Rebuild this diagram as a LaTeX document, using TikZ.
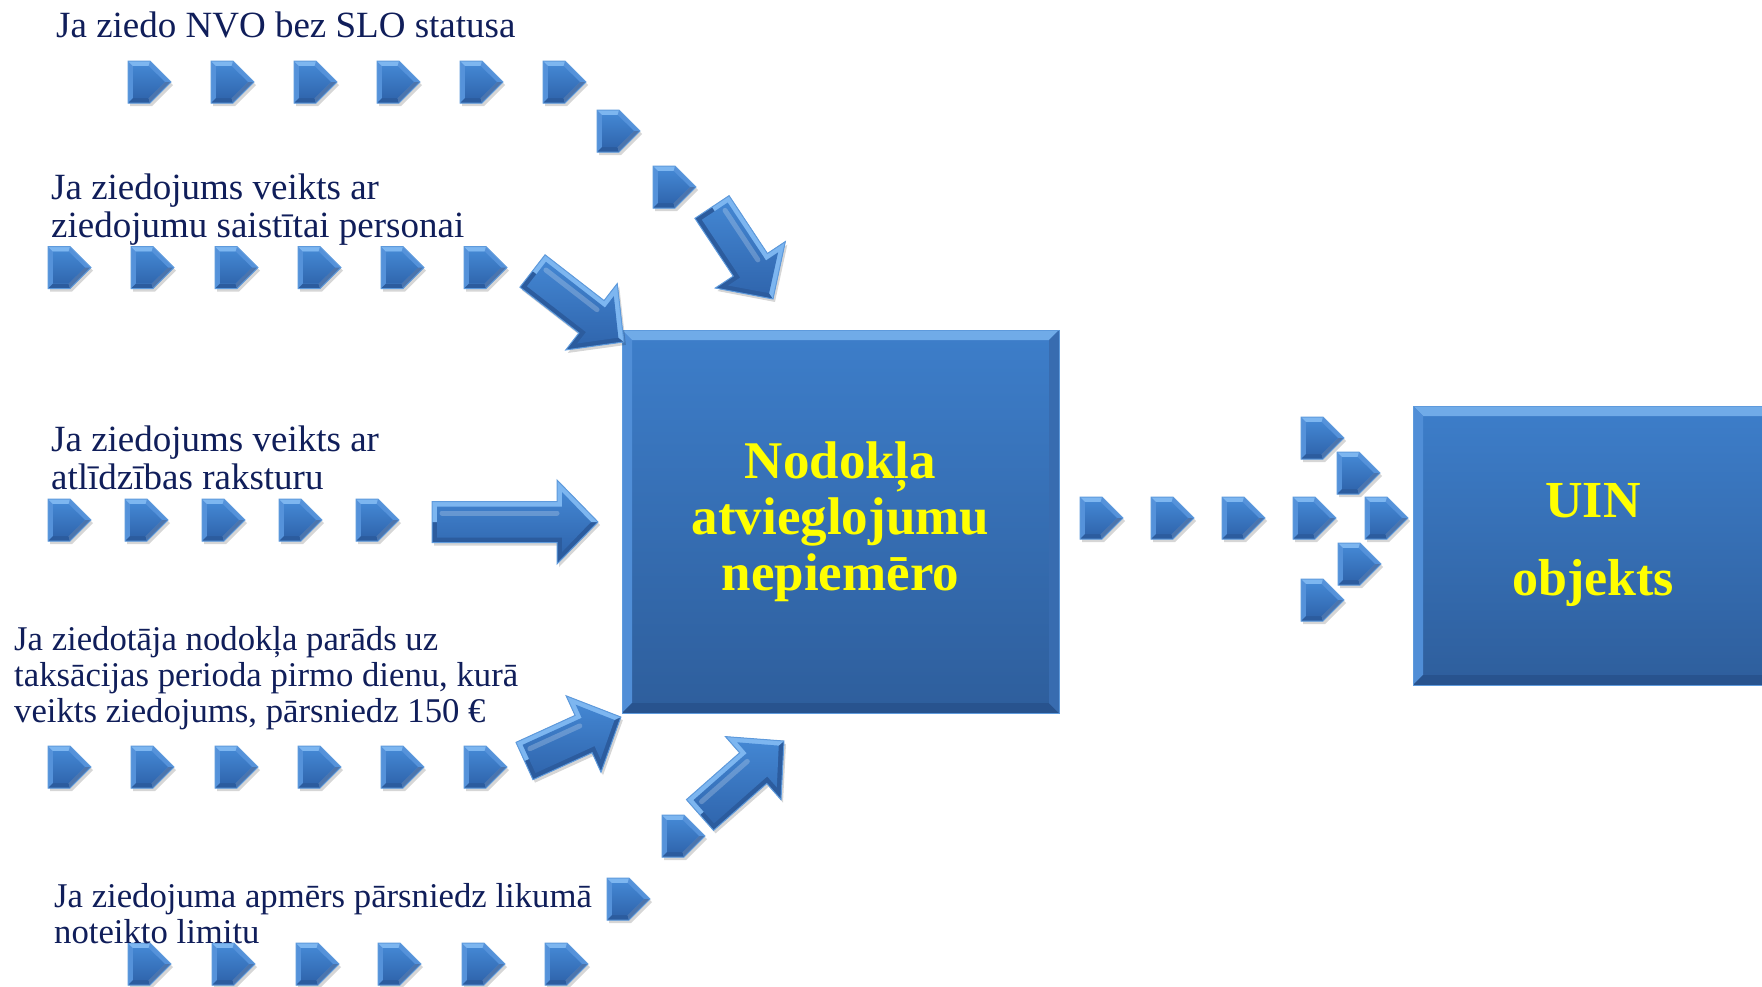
\documentclass[tikz,border=0pt]{standalone}
\usepackage{fontspec}
\setmainfont{Liberation Serif}
\usetikzlibrary{calc}
\definecolor{navy}{RGB}{16,30,90}
\definecolor{bface1}{HTML}{4386D2}
\definecolor{bface2}{HTML}{3066AE}
\definecolor{blite}{HTML}{7DB6F0}
\definecolor{bmid}{HTML}{5592DA}
\definecolor{bdark}{HTML}{2C5C9E}
\definecolor{bedge}{HTML}{5E9ADC}
\definecolor{boxtop}{HTML}{3D7ECA}
\definecolor{boxbot}{HTML}{2E5E9C}
\definecolor{ylw}{RGB}{255,255,0}

\tikzset{
 lbl/.style={anchor=base west, inner sep=0pt, text=navy, align=left,
   font=\fontsize{37}{38}\selectfont},
 lblsmall/.style={lbl, font=\fontsize{34.7}{36}\selectfont},
 chev/.pic={
   \fill[black,opacity=0.16] (2,-18) -- (24,-18) -- (45,3) -- (24,24) -- (2,24) -- cycle;
   \fill[bmid] (0,-21) -- (22,-21) -- (43,0) -- (22,21) -- (0,21) -- cycle;
   \fill[blite] (0,-21) -- (22,-21) -- (20.5,-16) -- (5,-16) -- cycle;
   \fill[bdark] (0,21) -- (22,21) -- (20.5,16) -- (5,16) -- cycle;
   \fill[bdark!85!white] (43,0) -- (22,21) -- (20.5,16) -- (37,0) -- cycle;
   \shade[top color=bface1, bottom color=bface2] (5,-16) -- (20.5,-16) -- (37,0) -- (20.5,16) -- (5,16) -- cycle;
   \draw[bedge, line width=1pt] (0,-21) -- (22,-21) -- (43,0) -- (22,21) -- (0,21) -- cycle;
 },
 bigbox/.style={draw=bedge, line width=1pt, top color=boxtop, bottom color=boxbot,
   inner sep=0pt, text=ylw, align=center,
   path picture={
     \coordinate (pNW) at (path picture bounding box.north west);
     \coordinate (pNE) at (path picture bounding box.north east);
     \coordinate (pSW) at (path picture bounding box.south west);
     \coordinate (pSE) at (path picture bounding box.south east);
     \fill[blite!80!boxtop] (pNW) -- (pNE) -- ($(pNE)+(-10pt,-10pt)$) -- ($(pNW)+(10pt,-10pt)$) -- cycle;
     \fill[bmid!80!boxtop] (pNW) -- ($(pNW)+(10pt,-10pt)$) -- ($(pSW)+(10pt,10pt)$) -- (pSW) -- cycle;
     \fill[bdark!90!black] (pSW) -- (pSE) -- ($(pSE)+(-10pt,10pt)$) -- ($(pSW)+(10pt,10pt)$) -- cycle;
     \fill[bdark!70!bmid] (pNE) -- (pSE) -- ($(pSE)+(-10pt,10pt)$) -- ($(pNE)+(-10pt,-10pt)$) -- cycle;
   }},
}

\newcommand\fatarrow[2]{%
 \pgfpointdiff{\pgfpointanchor{#1}{center}}{\pgfpointanchor{#2}{center}}%
 \pgfgetlastxy\fadx\fady
 \pgfmathsetmacro\faang{atan2(\fady,\fadx)}%
 \pgfmathsetmacro\falen{veclen(\fadx,\fady)}%
 \pgfmathsetmacro\fab{\falen-41}%
 \pgfmathsetmacro\fabi{\falen-36}%
 \pgfmathsetmacro\fati{\falen-7}%
 \begin{scope}[shift={($(#1)+(2,3)$)},rotate=\faang]
  \fill[black,opacity=0.16] (0pt,20.5pt) -- (\fab pt,20.5pt) -- (\fab pt,42pt) -- (\falen pt,0pt) -- (\fab pt,-42pt) -- (\fab pt,-20.5pt) -- (0pt,-20.5pt) -- cycle;
 \end{scope}
 \begin{scope}[shift={(#1)},rotate=\faang]
  \fill[bdark] (0pt,20.5pt) -- (\fab pt,20.5pt) -- (\fab pt,42pt) -- (\falen pt,0pt) -- (\fab pt,-42pt) -- (\fab pt,-20.5pt) -- (0pt,-20.5pt) -- cycle;
  \fill[blite] (0pt,0pt) -- (0pt,20.5pt) -- (\fab pt,20.5pt) -- (\fab pt,42pt) -- (\falen pt,0pt) -- cycle;
  \shade[top color=bface1,bottom color=bface2] (5pt,15.5pt) -- (\fabi pt,15.5pt) -- (\fabi pt,30pt) -- (\fati pt,0pt) -- (\fabi pt,-30pt) -- (\fabi pt,-15.5pt) -- (5pt,-15.5pt) -- cycle;
  \draw[white,opacity=0.22,line width=5pt,line cap=round] (10pt,9pt) -- (\fab pt,9pt);
  \draw[bedge,line width=1pt] (0pt,20.5pt) -- (\fab pt,20.5pt) -- (\fab pt,42pt) -- (\falen pt,0pt) -- (\fab pt,-42pt) -- (\fab pt,-20.5pt) -- (0pt,-20.5pt) -- cycle;
 \end{scope}}

\begin{document}
\begin{tikzpicture}[x=1pt,y=-1pt]
\useasboundingbox (0,0) rectangle (1762,986);
\clip (0,0) rectangle (1762,986);
\fill[white] (0,0) rectangle (1762,986);

% boxes
\node[bigbox, minimum width=437pt, minimum height=383pt,
  font=\bfseries\fontsize{53}{56}\selectfont] (nb) at (840.5,521.5)
  {Nodokļa\\atvieglojumu\\nepiemēro};
\node[bigbox, minimum width=360pt, minimum height=279pt,
  font=\bfseries\fontsize{52}{82}\selectfont] (uin) at (1593,545.5)
  {\raisebox{-4pt}{UIN}\\objekts};

% chevrons
\foreach \x in {128,211,294,377,460,543} \pic at (\x,82) {chev};
\pic at (597,131) {chev};
\pic at (653,187) {chev};
\foreach \x in {48,131,215,298,381,464} \pic at (\x,267.5) {chev};
\foreach \x in {48,125,202,279,356} \pic at (\x,520) {chev};
\foreach \x in {48,131,215,298,381,464} \pic at (\x,767) {chev};
\foreach \x in {128,212,296,378,462,545} \pic at (\x,964) {chev};
\pic at (607,899) {chev};
\pic at (662,836) {chev};
\foreach \x in {1080,1151,1222,1293,1365} \pic at (\x,518) {chev};
\pic at (1301,438) {chev};
\pic at (1337,473) {chev};
\pic at (1338,564) {chev};
\pic at (1301,600) {chev};

% big arrows
\coordinate (a1t) at (712,207);   \coordinate (a1h) at (773,299);
\coordinate (a2t) at (532.5,271); \coordinate (a2h) at (624,342);
\coordinate (a3t) at (432,522);   \coordinate (a3h) at (598,522);
\coordinate (a4t) at (524.5,761); \coordinate (a4h) at (621,717);
\coordinate (a5t) at (700,815);   \coordinate (a5h) at (784,741);
\fatarrow{a1t}{a1h}
\fatarrow{a2t}{a2h}
\fatarrow{a3t}{a3h}
\fatarrow{a4t}{a4h}
\fatarrow{a5t}{a5h}

% labels (base = baseline of the last line)
\node[lbl] (t1) at (56,37) {Ja ziedo NVO bez SLO statusa};
\node[lbl] (t2) at (51,237) {Ja ziedojums veikts ar\\ziedojumu saistītai personai};
\node[lbl] (t3) at (51,489) {Ja ziedojums veikts ar\\atlīdzības raksturu};
\node[lblsmall] (t4) at (14,722) {Ja ziedotāja nodokļa parāds uz\\taksācijas perioda pirmo dienu, kurā\\veikts ziedojums, pārsniedz 150 €};
\node[lblsmall] (t5) at (54,943) {Ja ziedojuma apmērs pārsniedz likumā\\noteikto limitu};
\end{tikzpicture}
\end{document}
